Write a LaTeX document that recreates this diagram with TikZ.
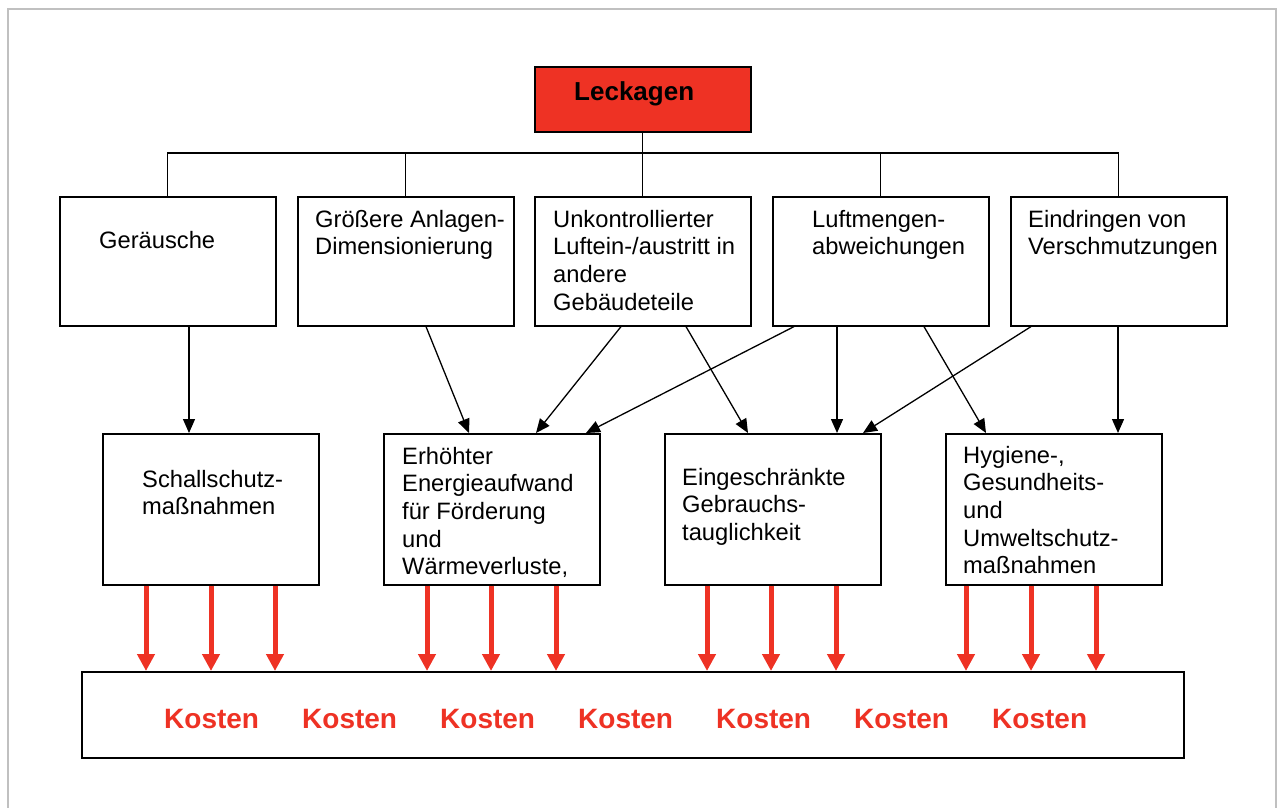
\documentclass[tikz,border=0pt]{standalone}
\usepackage{fontspec}
\setmainfont{Liberation Sans}
\usetikzlibrary{arrows.meta}
\definecolor{kred}{RGB}{238,50,36}
\definecolor{framegray}{RGB}{192,192,192}
\newcommand{\mlines}[1]{\parbox[t]{200pt}{\raggedright #1}}
\begin{document}
\begin{tikzpicture}[x=1pt,y=-1pt,
 box/.style={draw=black, line width=1.6pt, rectangle, inner sep=0pt, anchor=north west, minimum width=216pt},
 toprow/.style={box, minimum height=129pt},
 midrow/.style={box, minimum height=151pt},
 txt/.style={anchor=base west, inner sep=0pt, font=\fontsize{23.7pt}{27.7pt}\selectfont},
 conn/.style={draw=black, line width=1.3pt},
 arr/.style={conn, -{Triangle[length=14pt,width=12pt]}},
 redarr/.style={draw=kred, line width=5pt, -{Triangle[length=17pt,width=17pt]}},
 kosten/.style={anchor=base west, inner sep=0pt, text=kred, font=\bfseries\fontsize{28pt}{32pt}\selectfont}
]
\useasboundingbox (0,0) rectangle (1281,807);
\draw[framegray, line width=1.5pt] (8,820) -- (8,9) -- (1276,9) -- (1276,820);

% top node
\node[box, fill=kred, minimum height=65pt] (L) at (534,66) {};
\node[anchor=base west, inner sep=0pt, font=\bfseries\fontsize{26pt}{30pt}\selectfont] (Ltxt) at (574,100) {Leckagen};

% first row
\node[toprow] (T1) at (59,196) {};
\node[toprow] (T2) at (297,196) {};
\node[toprow] (T3) at (534,196) {};
\node[toprow] (T4) at (772,196) {};
\node[toprow] (T5) at (1010,196) {};
\node[txt] (t1) at (99,248) {Geräusche};
\node[txt] (t2) at (315,227) {\mlines{Größere Anlagen-\\Dimensionierung}};
\node[txt] (t3) at (553,227) {\mlines{Unkontrollierter\\Luftein-/austritt in\\andere\\Gebäudeteile}};
\node[txt] (t4) at (812,227) {\mlines{Luftmengen-\\abweichungen}};
\node[txt] (t5) at (1028,227) {\mlines{Eindringen von\\Verschmutzungen}};

% bus
\coordinate (bus) at (642,153);
\draw[conn] (L.south) -- (T3.north);
\draw[conn] (T1.north) |- (bus);
\draw[conn] (T5.north) |- (bus);
\draw[conn] (T2.north) -- (T2.north |- bus);
\draw[conn] (T4.north) -- (T4.north |- bus);

% second row
\node[midrow] (A) at (102,433) {};
\node[midrow] (B) at (383,433) {};
\node[midrow] (C) at (664,433) {};
\node[midrow] (D) at (945,433) {};
\node[txt] (a) at (142,487) {\mlines{Schallschutz-\\maßnahmen}};
\node[txt] (b) at (402,464) {\mlines{Erhöhter\\Energieaufwand\\für Förderung\\und\\Wärmeverluste,}};
\node[txt] (c) at (682,485) {\mlines{Eingeschränkte\\Gebrauchs-\\tauglichkeit}};
\node[txt] (d) at (963,463) {\mlines{Hygiene-,\\Gesundheits-\\und\\Umweltschutz-\\maßnahmen}};

% black arrows
\draw[arr] (T1.south -| 189,0) -- (A.north -| 189,0);
\draw[arr] (T2.south -| 426,0) -- (B.north -| 469,0);
\draw[arr] (T3.south -| 621,0) -- (B.north -| 536,0);
\draw[arr] (T4.south -| 794,0) -- (B.north -| 586,0);
\draw[arr] (T3.south -| 686,0) -- (C.north -| 748,0);
\draw[arr] (T4.south -| 837,0) -- (C.north -| 837,0);
\draw[arr] (T5.south -| 1031,0) -- (C.north -| 863,0);
\draw[arr] (T4.south -| 924,0) -- (D.north -| 986,0);
\draw[arr] (T5.south -| 1118,0) -- (D.north -| 1118,0);

% cost box
\node[box, minimum width=1102pt, minimum height=86pt] (K) at (81,671) {};
\foreach \x/\n in {146/A,211/A,275/A,427/B,491/B,556/B,707/C,771/C,836/C,966/D,1031/D,1096/D}
  \draw[redarr] (\n.south -| \x,0) -- (K.north -| \x,0);
\foreach \i/\x in {1/164,2/302,3/440,4/578,5/716,6/854,7/992}
  \node[kosten] (k\i) at (\x,728) {Kosten};
\end{tikzpicture}
\end{document}
